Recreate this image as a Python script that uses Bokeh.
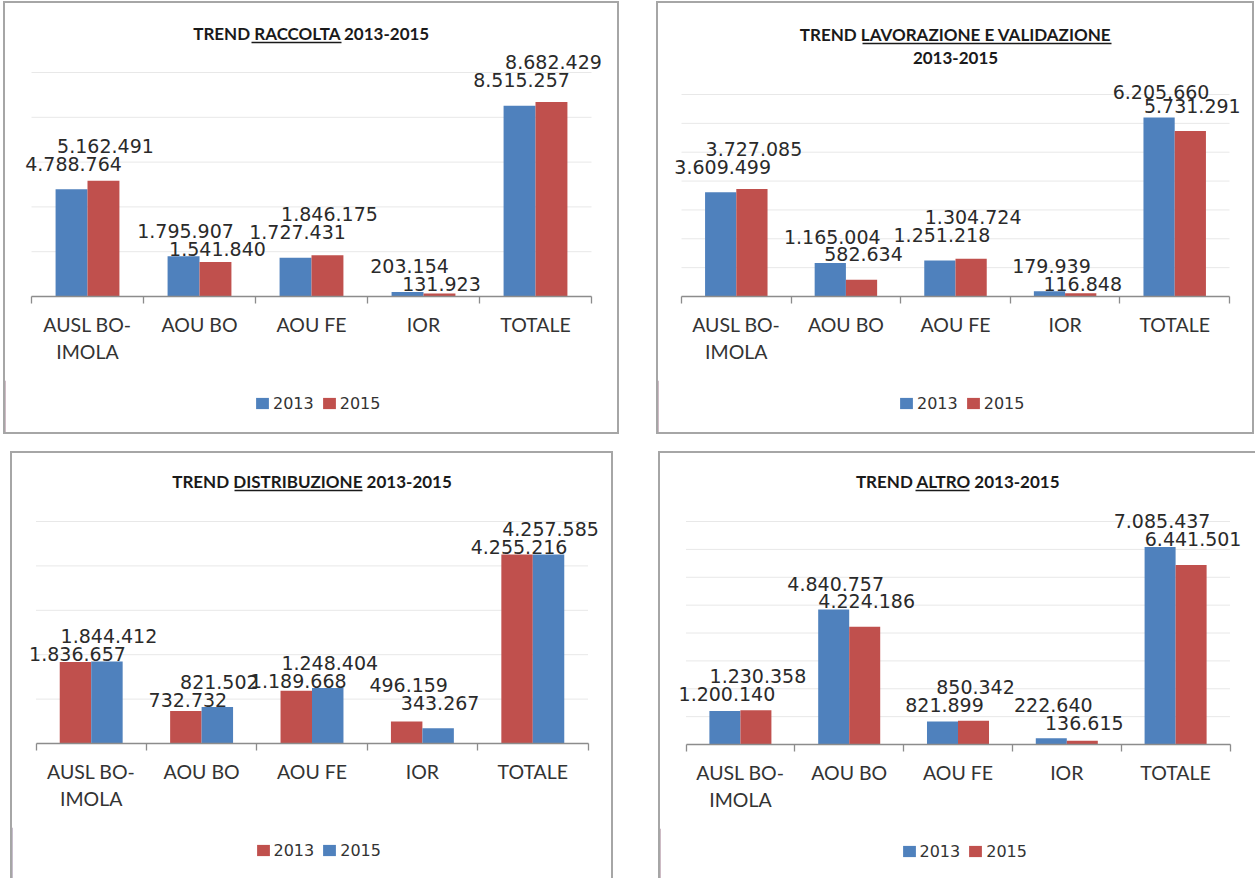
from bokeh.plotting import figure
from bokeh.models import (Range1d, LinearAxis, FixedTicker, Legend, LegendItem,
                          ColumnDataSource, LabelSet)
from bokeh.layouts import row, column
from bokeh.core.properties import value
from bokeh.embed import file_html
from bokeh.resources import INLINE

# ---------------- data ----------------
categories = ["AUSL BO-IMOLA", "AOU BO", "AOU FE", "IOR", "TOTALE"]
category_labels = ["AUSL BO-\nIMOLA", "AOU BO", "AOU FE", "IOR", "TOTALE"]
series_names = ["2013", "2015"]

raccolta_2013 = [4788764, 1795907, 1727431, 203154, 8515257]
raccolta_2015 = [5162491, 1541840, 1846175, 131923, 8682429]

lavorazione_2013 = [3609499, 1165004, 1251218, 179939, 6205660]
lavorazione_2015 = [3727085, 582634, 1304724, 116848, 5731291]

distribuzione_2013 = [1836657, 732732, 1189668, 496159, 4255216]
distribuzione_2015 = [1844412, 821502, 1248404, 343267, 4257585]

altro_2013 = [1200140, 4840757, 821899, 222640, 7085437]
altro_2015 = [1230358, 4224186, 850342, 136615, 6441501]

raccolta_ticks = [0, 2000000, 4000000, 6000000, 8000000, 10000000]
lavorazione_ticks = [0, 1000000, 2000000, 3000000, 4000000, 5000000, 6000000, 7000000]
distribuzione_ticks = [0, 1000000, 2000000, 3000000, 4000000, 5000000]
altro_ticks = [0, 1000000, 2000000, 3000000, 4000000, 5000000, 6000000, 7000000, 8000000]

# ---------------- style ----------------
BLUE = "#4f81bd"
RED = "#c0504d"
AXIS = "#8c8c8c"
GRID = "#e8e8e8"
BORDER = "#a6a6a6"
TXT = "#2a2a2a"
BAR_W = 0.285
AX_H = 84          # room kept below the plot area for the category axis
LEG_H = 19
LEG_W = 126


def fmt(v):
    return f"{v:,}".replace(",", ".")


def label_offsets(v13, v15, k, mover):
    """upward pixel offsets of the value-label centres relative to each bar top"""
    o13, o15 = [], []
    for a, b in zip(v13, v15):
        s13 = a * k + 25.5
        s15 = b * k + 25.5
        if abs(s13 - s15) < 12:
            if mover == "both":
                m = (s13 + s15) / 2
                if a >= b:
                    s13, s15 = m + 9, m - 9
                else:
                    s13, s15 = m - 9, m + 9
            elif mover == "2015":
                s15 = s13 + 18 if b > a else s13 - 18
            else:
                s13 = s15 + 18 if a > b else s15 - 18
        o13.append(s13 - a * k)
        o15.append(s15 - b * k)
    return o13, o15


def make_panel(title_lines, underline, v13, v15, c13, c15, ticks, g, mover):
    n = len(categories)
    W, H, cw, base, top = g["W"], g["H"], g["cw"], g["base"], g["top"]
    pad = (W - cw * n) / 2 / cw
    k = (base - top) / ticks[-1]
    y_end = base / k

    p = figure(frame_width=W, frame_height=base,
               x_range=Range1d(-pad, n + pad), y_range=Range1d(0, y_end),
               x_axis_location=None, y_axis_location=None,
               toolbar_location=None, output_backend="svg",
               min_border_left=0, min_border_right=0,
               min_border_top=0, min_border_bottom=AX_H)
    p.outline_line_color = None
    p.grid.visible = False
    p.background_fill_color = "white"
    p.border_fill_color = "white"

    # horizontal gridlines over the category span
    gy = ticks[1:]
    p.segment(x0=[0] * len(gy), x1=[n] * len(gy), y0=gy, y1=gy,
              line_color=GRID, line_width=1)

    o13, o15 = label_offsets(v13, v15, k, mover)
    idx = list(range(n))
    src = ColumnDataSource(dict(x13=[i + 0.5 - BAR_W / 2 for i in idx],
                                x15=[i + 0.5 + BAR_W / 2 for i in idx],
                                v13=v13, v15=v15,
                                t13=[fmt(v) for v in v13], t15=[fmt(v) for v in v15],
                                o13=o13, o15=o15))
    p.vbar(x="x13", top="v13", width=BAR_W, source=src, fill_color=c13, line_color=None)
    p.vbar(x="x15", top="v15", width=BAR_W, source=src, fill_color=c15, line_color=None)

    for xx, yy, tt, oo in (("x13", "v13", "t13", "o13"), ("x15", "v15", "t15", "o15")):
        p.add_layout(LabelSet(x=xx, y=yy, text=tt, y_offset=oo, x_offset=2, source=src,
                              text_font=value("DejaVu Sans"), text_font_size="19px",
                              text_color=TXT, text_align="center", text_baseline="middle"))

    # title (with the underlined word)
    for txt, yc in title_lines:
        p.text(x=[n / 2], y=[(base - yc) / k], text=[txt], text_font=value("Lato"),
               text_font_style="bold", text_font_size="17px", text_color="#1a1a1a",
               text_align="center", text_baseline="middle")
    ux0, ux1, uy = underline
    pad_px = pad * cw
    p.segment(x0=[(ux0 - pad_px) / cw], x1=[(ux1 - pad_px) / cw], y0=[(base - uy) / k],
              y1=[(base - uy) / k], line_color="#1a1a1a", line_width=1.3)

    centers = [i + 0.5 for i in idx]
    overrides = {c: lab for c, lab in zip(centers, category_labels)}
    ax = LinearAxis(bounds=(0, n),
                    ticker=FixedTicker(ticks=centers, minor_ticks=list(range(n + 1))),
                    major_label_overrides=overrides,
                    major_tick_line_color=None, major_tick_in=0, major_tick_out=7,
                    minor_tick_in=0, minor_tick_out=7, minor_tick_line_color=AXIS,
                    minor_tick_line_width=1.3, axis_line_color=AXIS, axis_line_width=1.3,
                    major_label_text_font="Lato", major_label_text_font_size="19.5px",
                    major_label_text_color="#333333", major_label_standoff=9,
                    major_label_text_line_height=1.2)
    p.add_layout(ax, "below")

    # legend strip under the category labels
    hl = H - base - AX_H
    lf = figure(frame_width=W, frame_height=hl, x_range=Range1d(0, 1), y_range=Range1d(0, 1),
                x_axis_location=None, y_axis_location=None, toolbar_location=None,
                output_backend="svg", min_border=0)
    lf.outline_line_color = None
    lf.grid.visible = False
    lf.border_fill_color = "white"
    # swatch renderers kept outside the visible range; only their legend entries show
    d13 = lf.vbar(x=[-10], top=[1], bottom=[0], width=0.1, fill_color=c13, line_color=None)
    d15 = lf.vbar(x=[-10], top=[1], bottom=[0], width=0.1, fill_color=c15, line_color=None)
    lg = Legend(items=[LegendItem(label=series_names[0], renderers=[d13]),
                       LegendItem(label=series_names[1], renderers=[d15])],
                orientation="horizontal",
                location=(W / 2 + 6 - LEG_W / 2, hl - (107 - AX_H) - LEG_H / 2),
                glyph_width=16, glyph_height=14, label_standoff=3, spacing=7,
                padding=0, margin=0, border_line_color=None,
                background_fill_alpha=0, label_text_font="DejaVu Sans",
                label_text_font_size="16px", label_text_color="#333333",
                label_height=14)
    lf.add_layout(lg)

    return column(p, lf, spacing=0, styles=g["styles"], margin=g["margin"])


b = f"2px solid {BORDER}"

g_tl = dict(W=612, H=429, cw=112.0, base=293, top=69,
            styles={"border": b}, margin=(0, 0, 0, 0))
g_tr = dict(W=594, H=429, cw=109.6, base=293, top=91,
            styles={"border": b}, margin=(0, 0, 0, 37))
g_bl = dict(W=599, H=425, cw=110.4, base=290, top=68,
            styles={"border-top": b, "border-left": b, "border-right": b},
            margin=(17, 0, 0, 7))
g_br = dict(W=595, H=425, cw=108.8, base=291, top=68,
            styles={"border-top": b, "border-left": b},
            margin=(17, 0, 0, 45))

tl = make_panel([("TREND RACCOLTA 2013-2015", 30)], (246, 336, 39),
                raccolta_2013, raccolta_2015, BLUE, RED, raccolta_ticks, g_tl, "2015")
tr = make_panel([("TREND LAVORAZIONE E VALIDAZIONE", 31), ("2013-2015", 54)], (204, 453, 40),
                lavorazione_2013, lavorazione_2015, BLUE, RED, lavorazione_ticks, g_tr, "2015")
bl = make_panel([("TREND DISTRIBUZIONE 2013-2015", 28)], (222, 350, 37),
                distribuzione_2013, distribuzione_2015, RED, BLUE, distribuzione_ticks, g_bl, "2013")
br = make_panel([("TREND ALTRO 2013-2015", 28)], (255, 309, 37),
                altro_2013, altro_2015, BLUE, RED, altro_ticks, g_br, "both")

layout = column(row(tl, tr), row(bl, br), margin=(1, 0, 0, 3))

open("out.html", "w").write(file_html(layout, INLINE))
